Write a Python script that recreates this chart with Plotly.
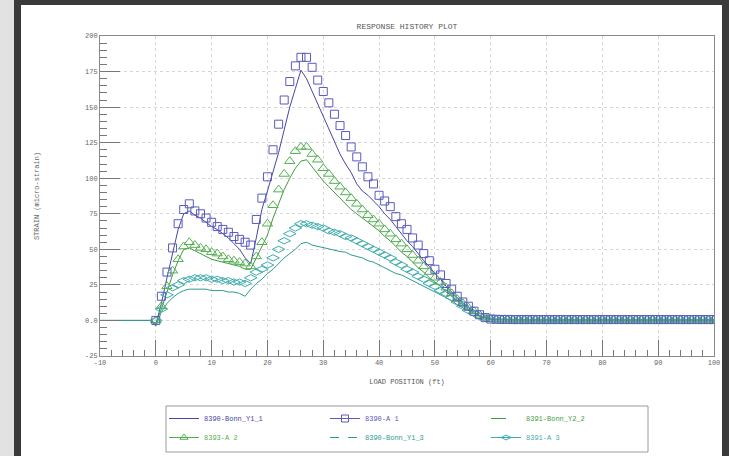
import plotly.graph_objects as go

# ---------------- data ----------------
line_x = list(range(-10, 101))      # load position (ft) for the continuous traces
mark_x = list(range(0, 101))        # load position (ft) for the symbol traces

bonn_y1_1 = [0, 0, 0, 0, 0, 0, 0, 0, 0, 0,
             -3, 12, 30, 48, 64, 75, 77, 74, 72, 69,
             66, 64, 61, 58, 54, 50, 44, 40, 58, 78,
             91, 104, 118, 134, 150, 163, 176, 170, 161, 152,
             143, 134, 125, 117, 110, 104, 96, 91, 88, 84,
             80, 75, 71, 66, 61, 56, 52, 47, 42, 38,
             33, 29, 24, 20, 16, 12, 9, 6, 3.5, 2,
             1, 0.6, 0.5, 0.4, 0.4, 0.3, 0.3, 0.3, 0.3, 0.3,
             0.3, 0.3, 0.3, 0.3, 0.3, 0.3, 0.3, 0.3, 0.3, 0.3,
             0.3, 0.3, 0.3, 0.3, 0.3, 0.3, 0.3, 0.3, 0.3, 0.3,
             0.3, 0.3, 0.3, 0.3, 0.3, 0.3, 0.3, 0.3, 0.3, 0.3, 0.3]

a_1 = [0, 17, 34, 51, 68, 78, 82, 77, 75, 72,
       69, 66, 64, 62, 59, 57, 55, 53, 71, 86,
       101, 120, 138, 155, 168, 179, 185, 185, 178, 169,
       161, 153, 145, 137, 130, 122, 115, 108, 101, 96,
       88, 84, 80, 73, 68, 64, 58, 53, 47, 42,
       36, 32, 26, 22, 17, 13, 10, 6.5, 4, 2,
       1, 0.8, 0.7, 0.7, 0.6, 0.6, 0.6, 0.6, 0.6, 0.6,
       0.6, 0.6, 0.6, 0.6, 0.6, 0.6, 0.6, 0.6, 0.6, 0.6,
       0.6, 0.6, 0.6, 0.6, 0.6, 0.6, 0.6, 0.6, 0.6, 0.6,
       0.6, 0.6, 0.6, 0.6, 0.6, 0.6, 0.6, 0.6, 0.6, 0.6, 0.6]

bonn_y2_2 = [0, 0, 0, 0, 0, 0, 0, 0, 0, 0,
             -2, 8, 20, 32, 42, 50, 51, 49, 47, 45,
             43, 42, 41, 40, 39, 38, 36, 36, 44, 52,
             60, 72, 82, 92, 100, 107, 112, 113, 108, 103,
             98, 94, 90, 86, 82, 78, 75, 72, 69, 66,
             63, 59, 56, 52, 48, 45, 41, 37, 34, 30,
             27, 24, 20, 17, 14, 11, 8, 5, 3, 2,
             1, 0.6, 0.5, 0.4, 0.4, 0.3, 0.3, 0.3, 0.3, 0.3,
             0.3, 0.3, 0.3, 0.3, 0.3, 0.3, 0.3, 0.3, 0.3, 0.3,
             0.3, 0.3, 0.3, 0.3, 0.3, 0.3, 0.3, 0.3, 0.3, 0.3,
             0.3, 0.3, 0.3, 0.3, 0.3, 0.3, 0.3, 0.3, 0.3, 0.3, 0.3]

a_2 = [0, 10, 24, 35, 43, 52, 55, 53, 51, 50,
       48, 47, 45, 43, 42, 41, 40, 38, 45, 55,
       68, 81, 92, 103, 112, 119, 122, 122, 117, 113,
       107, 103, 98, 94, 90, 86, 82, 78, 74, 71,
       68, 64, 61, 57, 54, 50, 46, 42, 38, 34,
       30, 27, 23, 19, 15, 12, 9, 6.5, 4, 2,
       1, 0.7, 0.6, 0.6, 0.5, 0.5, 0.5, 0.5, 0.5, 0.5,
       0.5, 0.5, 0.5, 0.5, 0.5, 0.5, 0.5, 0.5, 0.5, 0.5,
       0.5, 0.5, 0.5, 0.5, 0.5, 0.5, 0.5, 0.5, 0.5, 0.5,
       0.5, 0.5, 0.5, 0.5, 0.5, 0.5, 0.5, 0.5, 0.5, 0.5, 0.5]

bonn_y1_3 = [0, 0, 0, 0, 0, 0, 0, 0, 0, 0,
             -4, 6, 12, 16, 19, 21, 22, 22, 22, 22,
             21, 21, 21, 20, 20, 19, 17, 22, 26, 29,
             33, 36, 40, 44, 47, 50, 54, 55, 53, 52,
             51, 50, 49, 48.5, 48, 46, 45, 44, 42, 41,
             39, 37, 35, 33, 32, 30, 28, 26, 24, 22,
             20, 18, 16, 14, 11, 9, 7, 5, 3, 2,
             1, 0.6, 0.5, 0.4, 0.4, 0.3, 0.3, 0.3, 0.3, 0.3,
             0.3, 0.3, 0.3, 0.3, 0.3, 0.3, 0.3, 0.3, 0.3, 0.3,
             0.3, 0.3, 0.3, 0.3, 0.3, 0.3, 0.3, 0.3, 0.3, 0.3,
             0.3, 0.3, 0.3, 0.3, 0.3, 0.3, 0.3, 0.3, 0.3, 0.3, 0.3]

a_3 = [0, 8, 18, 23, 25, 28, 29, 30, 30, 30,
       29, 29, 28, 28, 27, 27, 26, 30, 34, 36,
       39, 44, 50, 56, 61, 65, 68, 68, 67, 66,
       65, 63, 62, 61, 59, 58, 56, 54, 52, 50,
       48, 46, 44, 41, 39, 36, 34, 31, 29, 26,
       24, 21, 19, 16, 13, 10, 7, 5, 3, 1.5,
       1, 0.7, 0.6, 0.6, 0.5, 0.5, 0.5, 0.5, 0.5, 0.5,
       0.5, 0.5, 0.5, 0.5, 0.5, 0.5, 0.5, 0.5, 0.5, 0.5,
       0.5, 0.5, 0.5, 0.5, 0.5, 0.5, 0.5, 0.5, 0.5, 0.5,
       0.5, 0.5, 0.5, 0.5, 0.5, 0.5, 0.5, 0.5, 0.5, 0.5, 0.5]

y_tickvals = [-25, 0, 25, 50, 75, 100, 125, 150, 175, 200]
y_ticktext = ["-25", "0.0", "25", "50", "75", "100", "125", "150", "175", "200"]
x_tickvals = [-10, 0, 10, 20, 30, 40, 50, 60, 70, 80, 90, 100]
x_ticktext = ["-10", "0", "10", "20", "30", "40", "50", "60", "70", "80", "90", "100"]

names = ["8390-Bonn_Y1_1", "8390-A 1", "8391-Bonn_Y2_2",
         "8393-A 2", "8390-Bonn_Y1_3", "8391-A 3"]

# ---------------- style ----------------
W, H = 729, 456
ML, MR, MT, MB = 100, 15, 36, 100
PW, PH = W - ML - MR, H - MT - MB
FONT = "Liberation Mono"

def px_x(px):
    return (px - ML) / PW

def px_y(py):
    return (H - MB - py) / PH

BLUE_L, BLUE_M = "#4646a8", "#5a5ac0"
GREEN_L, GREEN_M = "#3f9c3f", "#52b052"
TEAL_L, TEAL_M = "#2c9c90", "#3eacac"

fig = go.Figure()

# data traces
fig.add_trace(go.Scatter(x=line_x, y=bonn_y1_1, mode="lines",
                         line=dict(color=BLUE_L, width=1), showlegend=False))
fig.add_trace(go.Scatter(x=line_x, y=bonn_y2_2, mode="lines",
                         line=dict(color=GREEN_L, width=1), showlegend=False))
fig.add_trace(go.Scatter(x=line_x, y=bonn_y1_3, mode="lines",
                         line=dict(color=TEAL_L, width=1), showlegend=False))
fig.add_trace(go.Scatter(x=mark_x, y=a_3, mode="markers",
                         marker=dict(symbol="diamond-wide-open", size=9,
                                     color=TEAL_M, line=dict(width=1)),
                         showlegend=False))
fig.add_trace(go.Scatter(x=mark_x, y=a_2, mode="markers",
                         marker=dict(symbol="triangle-up-open", size=9,
                                     color=GREEN_M, line=dict(width=1)),
                         showlegend=False))
fig.add_trace(go.Scatter(x=mark_x, y=a_1, mode="markers",
                         marker=dict(symbol="square-open", size=8,
                                     color=BLUE_M, line=dict(width=1)),
                         showlegend=False))

# legend entries (two rows, three columns)
legend_specs = [
    (names[0], BLUE_L, "solid", None, "legend"),
    (names[1], BLUE_M, "solid", "square-open", "legend"),
    (names[2], GREEN_L, "longdash", None, "legend"),
    (names[3], GREEN_M, "solid", "triangle-up-open", "legend2"),
    (names[4], TEAL_L, "dash", None, "legend2"),
    (names[5], TEAL_M, "solid", "diamond-wide-open", "legend2"),
]
for nm, col, dash, sym, lg in legend_specs:
    label = '<span style="color:%s">%s</span>' % (col, nm)
    if sym is None:
        fig.add_trace(go.Scatter(x=[None], y=[None], mode="lines", name=label,
                                 line=dict(color=col, width=1, dash=dash),
                                 legend=lg, hoverinfo="skip"))
    else:
        fig.add_trace(go.Scatter(x=[None], y=[None], mode="lines+markers", name=label,
                                 line=dict(color=col, width=1),
                                 marker=dict(symbol=sym, size=7, color=col, line=dict(width=1)),
                                 legend=lg, hoverinfo="skip"))

axis_common = dict(
    showline=True, linecolor="#8a8a8a", linewidth=1, mirror=True,
    showgrid=True, gridcolor="#d6d6d6", griddash="dot", gridwidth=1,
    zeroline=False, ticks="inside", tickcolor="#777777", tickwidth=1,
    tickfont=dict(family=FONT, size=7, color="#666666"),
)

fig.update_xaxes(
    range=[-10, 100], tickmode="array", tickvals=x_tickvals, ticktext=x_ticktext,
    ticklen=16,
    minor=dict(ticks="inside", dtick=2, tick0=0, ticklen=6, tickcolor="#777777", showgrid=False),
    title=dict(text="LOAD POSITION (ft)", font=dict(family=FONT, size=7, color="#555555"), standoff=12),
    **axis_common)
fig.update_yaxes(
    range=[-25, 200], tickmode="array", tickvals=y_tickvals, ticktext=y_ticktext,
    ticklen=20,
    minor=dict(ticks="inside", dtick=5, tick0=0, ticklen=7, tickcolor="#777777", showgrid=False),
    title=dict(text="STRAIN (micro-strain)", font=dict(family=FONT, size=7, color="#666666"), standoff=44),
    **axis_common)

shapes = [
    # light strip at the far left (the dark frame is the paper colour)
    dict(type="rect", xref="paper", yref="paper", x0=px_x(-2), x1=px_x(14),
         y0=px_y(H + 2), y1=px_y(-2), fillcolor="#e2e2e2", line=dict(width=0), layer="below"),
    # white panel
    dict(type="rect", xref="paper", yref="paper", x0=px_x(21), x1=px_x(722),
         y0=px_y(H + 2), y1=px_y(5), fillcolor="white", line=dict(width=0), layer="below"),
    # legend box
    dict(type="rect", xref="paper", yref="paper", x0=px_x(166), x1=px_x(648),
         y0=px_y(452), y1=px_y(406), fillcolor="rgba(0,0,0,0)",
         line=dict(color="#9a9a9a", width=1)),
]

legend_common = dict(orientation="h", xanchor="left", yanchor="top",
                     bgcolor="rgba(0,0,0,0)", borderwidth=0,
                     font=dict(family=FONT, size=7, color="#666666"),
                     itemwidth=30, entrywidth=116, entrywidthmode="pixels",
                     tracegroupgap=0, itemclick=False)

fig.update_layout(
    width=W, height=H,
    margin=dict(l=ML, r=MR, t=MT, b=MB, autoexpand=False),
    paper_bgcolor="#3a3a3a", plot_bgcolor="white",
    title=dict(text="RESPONSE HISTORY PLOT", x=0.5, xref="paper", xanchor="center",
               y=1 - 26 / H, yref="container", yanchor="middle",
               font=dict(family=FONT, size=8, color="#555555")),
    shapes=shapes,
    legend=dict(x=px_x(164), y=px_y(404), **legend_common),
    legend2=dict(x=px_x(164), y=px_y(423), **legend_common),
)

fig.write_html("out.html",
               config={"displayModeBar": False},
               post_script="document.body.style.margin='0';document.body.style.overflow='hidden';")
